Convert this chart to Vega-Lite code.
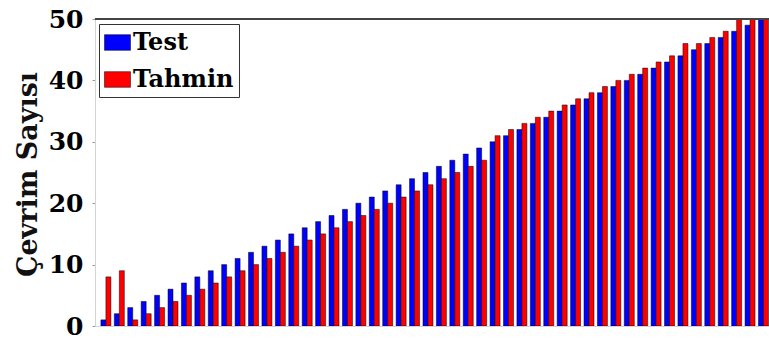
{
  "$schema": "https://vega.github.io/schema/vega-lite/v6.json",
  "width": 674,
  "height": 307,
  "autosize": {"type": "none"},
  "padding": {"left": 95, "top": 19, "right": 0, "bottom": 17},
  "background": "#ffffff",
  "config": {
    "view": {"stroke": null},
    "font": "DejaVu Serif",
    "legend": {
      "orient": "none",
      "legendX": 4,
      "legendY": 5,
      "direction": "vertical",
      "title": null,
      "padding": 5,
      "rowPadding": 11,
      "strokeColor": "#333333",
      "strokeWidth": 1,
      "fillColor": "#ffffff",
      "symbolType": "M-1,-0.6H1V0.6H-1Z",
      "symbolSize": 676,
      "symbolStrokeColor": "#000000",
      "symbolStrokeWidth": 0.5,
      "symbolOpacity": 1,
      "labelFont": "DejaVu Serif",
      "labelFontWeight": "bold",
      "labelFontSize": 24,
      "labelColor": "#000000",
      "labelOffset": 2
    }
  },
  "data": {
    "values": [
      {"i": 1, "s": "Test", "v": 1}, {"i": 1, "s": "Tahmin", "v": 8},
      {"i": 2, "s": "Test", "v": 2}, {"i": 2, "s": "Tahmin", "v": 9},
      {"i": 3, "s": "Test", "v": 3}, {"i": 3, "s": "Tahmin", "v": 1},
      {"i": 4, "s": "Test", "v": 4}, {"i": 4, "s": "Tahmin", "v": 2},
      {"i": 5, "s": "Test", "v": 5}, {"i": 5, "s": "Tahmin", "v": 3},
      {"i": 6, "s": "Test", "v": 6}, {"i": 6, "s": "Tahmin", "v": 4},
      {"i": 7, "s": "Test", "v": 7}, {"i": 7, "s": "Tahmin", "v": 5},
      {"i": 8, "s": "Test", "v": 8}, {"i": 8, "s": "Tahmin", "v": 6},
      {"i": 9, "s": "Test", "v": 9}, {"i": 9, "s": "Tahmin", "v": 7},
      {"i": 10, "s": "Test", "v": 10}, {"i": 10, "s": "Tahmin", "v": 8},
      {"i": 11, "s": "Test", "v": 11}, {"i": 11, "s": "Tahmin", "v": 9},
      {"i": 12, "s": "Test", "v": 12}, {"i": 12, "s": "Tahmin", "v": 10},
      {"i": 13, "s": "Test", "v": 13}, {"i": 13, "s": "Tahmin", "v": 11},
      {"i": 14, "s": "Test", "v": 14}, {"i": 14, "s": "Tahmin", "v": 12},
      {"i": 15, "s": "Test", "v": 15}, {"i": 15, "s": "Tahmin", "v": 13},
      {"i": 16, "s": "Test", "v": 16}, {"i": 16, "s": "Tahmin", "v": 14},
      {"i": 17, "s": "Test", "v": 17}, {"i": 17, "s": "Tahmin", "v": 15},
      {"i": 18, "s": "Test", "v": 18}, {"i": 18, "s": "Tahmin", "v": 16},
      {"i": 19, "s": "Test", "v": 19}, {"i": 19, "s": "Tahmin", "v": 17},
      {"i": 20, "s": "Test", "v": 20}, {"i": 20, "s": "Tahmin", "v": 18},
      {"i": 21, "s": "Test", "v": 21}, {"i": 21, "s": "Tahmin", "v": 19},
      {"i": 22, "s": "Test", "v": 22}, {"i": 22, "s": "Tahmin", "v": 20},
      {"i": 23, "s": "Test", "v": 23}, {"i": 23, "s": "Tahmin", "v": 21},
      {"i": 24, "s": "Test", "v": 24}, {"i": 24, "s": "Tahmin", "v": 22},
      {"i": 25, "s": "Test", "v": 25}, {"i": 25, "s": "Tahmin", "v": 23},
      {"i": 26, "s": "Test", "v": 26}, {"i": 26, "s": "Tahmin", "v": 24},
      {"i": 27, "s": "Test", "v": 27}, {"i": 27, "s": "Tahmin", "v": 25},
      {"i": 28, "s": "Test", "v": 28}, {"i": 28, "s": "Tahmin", "v": 26},
      {"i": 29, "s": "Test", "v": 29}, {"i": 29, "s": "Tahmin", "v": 27},
      {"i": 30, "s": "Test", "v": 30}, {"i": 30, "s": "Tahmin", "v": 31},
      {"i": 31, "s": "Test", "v": 31}, {"i": 31, "s": "Tahmin", "v": 32},
      {"i": 32, "s": "Test", "v": 32}, {"i": 32, "s": "Tahmin", "v": 33},
      {"i": 33, "s": "Test", "v": 33}, {"i": 33, "s": "Tahmin", "v": 34},
      {"i": 34, "s": "Test", "v": 34}, {"i": 34, "s": "Tahmin", "v": 35},
      {"i": 35, "s": "Test", "v": 35}, {"i": 35, "s": "Tahmin", "v": 36},
      {"i": 36, "s": "Test", "v": 36}, {"i": 36, "s": "Tahmin", "v": 37},
      {"i": 37, "s": "Test", "v": 37}, {"i": 37, "s": "Tahmin", "v": 38},
      {"i": 38, "s": "Test", "v": 38}, {"i": 38, "s": "Tahmin", "v": 39},
      {"i": 39, "s": "Test", "v": 39}, {"i": 39, "s": "Tahmin", "v": 40},
      {"i": 40, "s": "Test", "v": 40}, {"i": 40, "s": "Tahmin", "v": 41},
      {"i": 41, "s": "Test", "v": 41}, {"i": 41, "s": "Tahmin", "v": 42},
      {"i": 42, "s": "Test", "v": 42}, {"i": 42, "s": "Tahmin", "v": 43},
      {"i": 43, "s": "Test", "v": 43}, {"i": 43, "s": "Tahmin", "v": 44},
      {"i": 44, "s": "Test", "v": 44}, {"i": 44, "s": "Tahmin", "v": 46},
      {"i": 45, "s": "Test", "v": 45}, {"i": 45, "s": "Tahmin", "v": 46},
      {"i": 46, "s": "Test", "v": 46}, {"i": 46, "s": "Tahmin", "v": 47},
      {"i": 47, "s": "Test", "v": 47}, {"i": 47, "s": "Tahmin", "v": 48},
      {"i": 48, "s": "Test", "v": 48}, {"i": 48, "s": "Tahmin", "v": 50},
      {"i": 49, "s": "Test", "v": 49}, {"i": 49, "s": "Tahmin", "v": 50},
      {"i": 50, "s": "Test", "v": 50}, {"i": 50, "s": "Tahmin", "v": 50}
    ]
  },
  "encoding": {
    "x": {
      "field": "i",
      "type": "quantitative",
      "scale": {"domain": [0.56, 50.04], "nice": false, "zero": false},
      "axis": {"labels": false, "ticks": false, "grid": false, "title": null, "domainColor": "#d4d4d4", "domainWidth": 1}
    },
    "y": {
      "field": "v",
      "type": "quantitative",
      "scale": {"domain": [0, 50], "nice": false},
      "axis": {
        "values": [0, 10, 20, 30, 40, 50],
        "grid": false,
        "domainColor": "#d4d4d4",
        "tickColor": "#999999",
        "tickSize": 3,
        "labelPadding": 9,
        "labelFont": "DejaVu Serif",
        "labelFontWeight": "bold",
        "labelFontSize": 25,
        "labelColor": "#000000",
        "title": "Çevrim Sayısı",
        "titleFont": "DejaVu Serif",
        "titleFontWeight": "bold",
        "titleFontSize": 27,
        "titleColor": "#111111",
        "titleAngle": -90,
        "titleAlign": "center",
        "titleBaseline": "alphabetic",
        "titleX": -59,
        "titleY": 155
      }
    },
    "color": {
      "field": "s",
      "type": "nominal",
      "scale": {"domain": ["Test", "Tahmin"], "range": ["#0000ff", "#ff0000"]}
    }
  },
  "layer": [
    {
      "transform": [{"filter": "datum.s === 'Test'"}],
      "mark": {"type": "bar", "width": 5, "xOffset": -2.5, "clip": true, "stroke": "#000000", "strokeWidth": 0.5, "opacity": 1}
    },
    {
      "transform": [{"filter": "datum.s === 'Tahmin'"}],
      "mark": {"type": "bar", "width": 5, "xOffset": 2.5, "clip": true, "stroke": "#000000", "strokeWidth": 0.5, "opacity": 1}
    },
    {
      "mark": {"type": "rule", "color": "#444444", "strokeWidth": 2},
      "encoding": {"y": {"datum": 50}, "x": null, "color": null}
    }
  ]
}
